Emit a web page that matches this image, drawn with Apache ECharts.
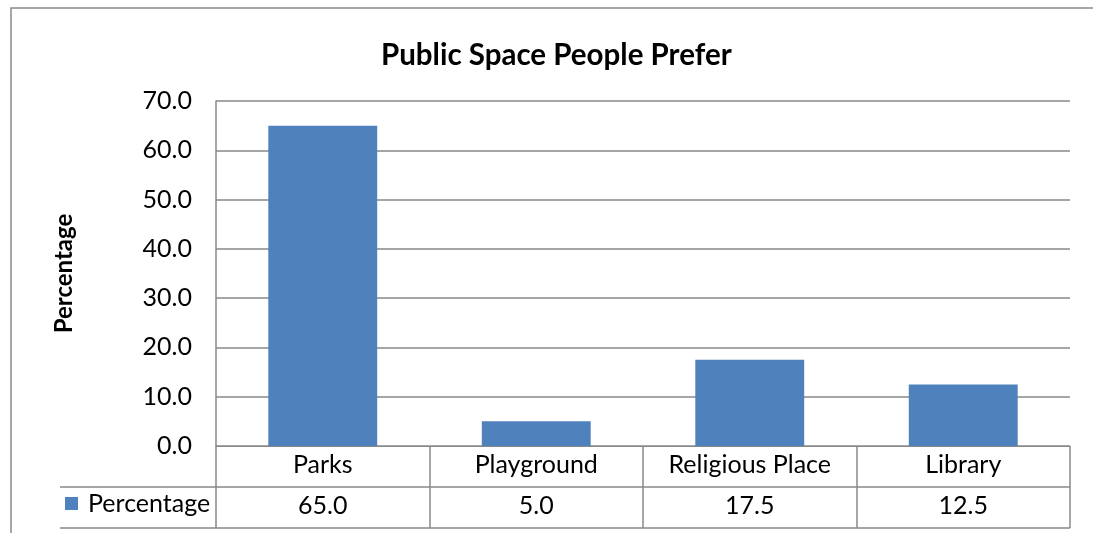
<!DOCTYPE html>
<html>
<head>
<meta charset="utf-8">
<script src="https://cdn.jsdelivr.net/npm/echarts@6/dist/echarts.min.js"></script>
<style>html,body{margin:0;padding:0;background:#fff;}#c{width:1093px;height:533px;}</style>
</head>
<body>
<div id="c"></div>
<script>
const categories = ['Parks', 'Playground', 'Religious Place', 'Library'];
const values = [65.0, 5.0, 17.5, 12.5];
const seriesName = 'Percentage';
const yTicks = { min: 0, max: 70, interval: 10 };

const FONT = 'Lato';
const GRAY = '#898989';
const FS = 25;
const chart = echarts.init(document.getElementById('c'));
chart.setOption({
  backgroundColor: '#fff',
  animation: false,
  textStyle: { fontFamily: FONT, color: '#000' },
  title: {
    text: 'Public Space People Prefer',
    left: 376, top: 35,
    textStyle: { fontFamily: FONT, fontWeight: 'bold', fontSize: 29.5, color: '#000' }
  },
  legend: {
    data: [seriesName], left: 65, top: 491, padding: 0,
    icon: 'rect', itemWidth: 13, itemHeight: 13, itemGap: 8,
    textStyle: { fontFamily: FONT, fontSize: FS, color: '#000', padding: [0, 0, 0, 5] }
  },
  grid: { left: 216, right: 23, top: 101, bottom: 87 },
  xAxis: [{
    type: 'category', data: categories, position: 'bottom',
    axisLine: { show: true, lineStyle: { color: GRAY, width: 1 } },
    axisTick: { show: true, length: 82, lineStyle: { color: GRAY, width: 1.5 } },
    axisLabel: { fontFamily: FONT, fontSize: FS, color: '#000', margin: 6, interval: 0 }
  }, {
    type: 'category', data: values.map(v => v.toFixed(1)), position: 'bottom', offset: 41,
    axisLine: { show: false }, axisTick: { show: false },
    axisLabel: { fontFamily: FONT, fontSize: FS, color: '#000', margin: 6, interval: 0 }
  }],
  yAxis: {
    type: 'value', min: yTicks.min, max: yTicks.max, interval: yTicks.interval,
    name: 'Percentage', nameLocation: 'middle', nameGap: 140, nameRotate: 90,
    nameTextStyle: { fontFamily: FONT, fontWeight: 'bold', fontSize: 24, color: '#000' },
    axisLine: { show: true, lineStyle: { color: GRAY, width: 1.5 } },
    axisTick: { show: false },
    splitLine: { lineStyle: { color: GRAY, width: 1.5 } },
    axisLabel: { fontFamily: FONT, fontSize: FS, color: '#000', margin: 24, formatter: v => v.toFixed(1) }
  },
  series: [{
    name: seriesName, type: 'bar', data: values, xAxisIndex: 0,
    barWidth: '51%', itemStyle: { color: '#4F81BD' }
  }],
  graphic: [
    { type: 'rect', shape: { x: 11, y: 8, width: 1100, height: 600 }, style: { fill: 'none', stroke: GRAY, lineWidth: 1.5 }, silent: true },
    { type: 'line', shape: { x1: 60, y1: 487, x2: 1070, y2: 487 }, style: { stroke: GRAY, lineWidth: 1.5 }, silent: true },
    { type: 'line', shape: { x1: 60, y1: 528, x2: 1070, y2: 528 }, style: { stroke: GRAY, lineWidth: 1.5 }, silent: true }
  ]
});
</script>
</body>
</html>
